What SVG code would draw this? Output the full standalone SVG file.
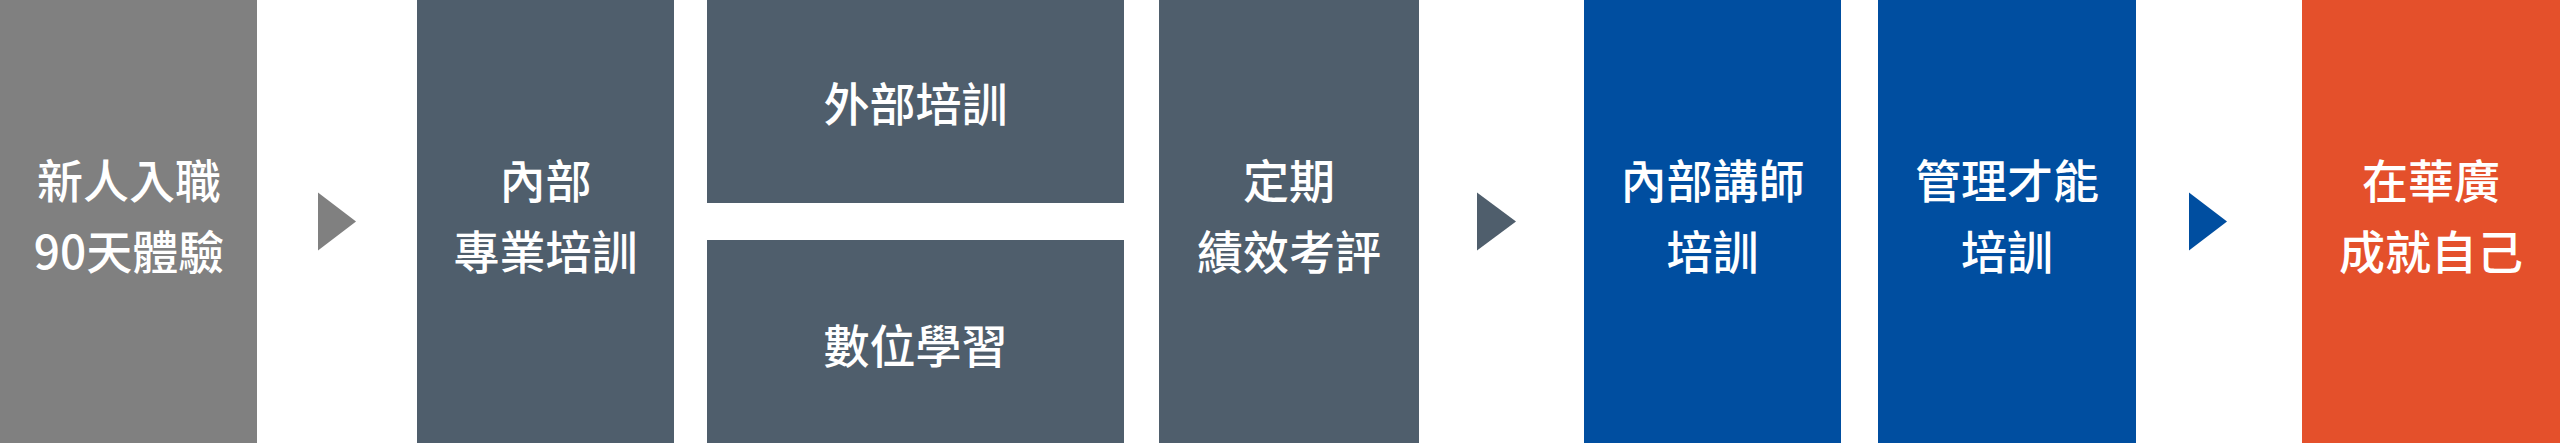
<svg xmlns="http://www.w3.org/2000/svg" width="2560" height="445" viewBox="0 0 2560 445">
<style>
.g{fill:#808080}.s{fill:#4f5e6c}.b{fill:#004ea0}.o{fill:#e4502b}
text{font-family:"Noto Sans CJK TC","Noto Sans CJK SC",sans-serif;font-size:46px;font-weight:500;fill:#ffffff;text-anchor:middle}
</style>
<rect width="2560" height="445" fill="#ffffff"/>
<g id="n1"><rect class="g" x="0" y="0" width="257" height="443"/><text x="129" y="198">新人入職</text><text x="129" y="269">90天體驗</text></g>
<g id="n2"><rect class="s" x="417" y="0" width="257" height="443"/><text x="545.5" y="198">內部</text><text x="545.5" y="269">專業培訓</text></g>
<g id="n3"><rect class="s" x="707" y="0" width="417" height="203"/><text x="915.5" y="121">外部培訓</text></g>
<g id="n4"><rect class="s" x="707" y="240" width="417" height="203"/><text x="915.5" y="363">數位學習</text></g>
<g id="n5"><rect class="s" x="1159" y="0" width="260" height="443"/><text x="1289" y="198">定期</text><text x="1289" y="269">績效考評</text></g>
<g id="n6"><rect class="b" x="1584" y="0" width="257" height="443"/><text x="1712.5" y="198">內部講師</text><text x="1712.5" y="269">培訓</text></g>
<g id="n7"><rect class="b" x="1878" y="0" width="258" height="443"/><text x="2007" y="198">管理才能</text><text x="2007" y="269">培訓</text></g>
<g id="n8"><rect class="o" x="2302" y="0" width="258" height="443"/><text x="2431" y="198">在華廣</text><text x="2431" y="269">成就自己</text></g>
<g id="connectors">
<polygon class="g" points="318,192.5 356,221.5 318,250.5"/>
<polygon class="s" points="1477,192.5 1516,221.5 1477,250.5"/>
<polygon class="b" points="2189,192.5 2227,221.5 2189,250.5"/>
</g>
</svg>
